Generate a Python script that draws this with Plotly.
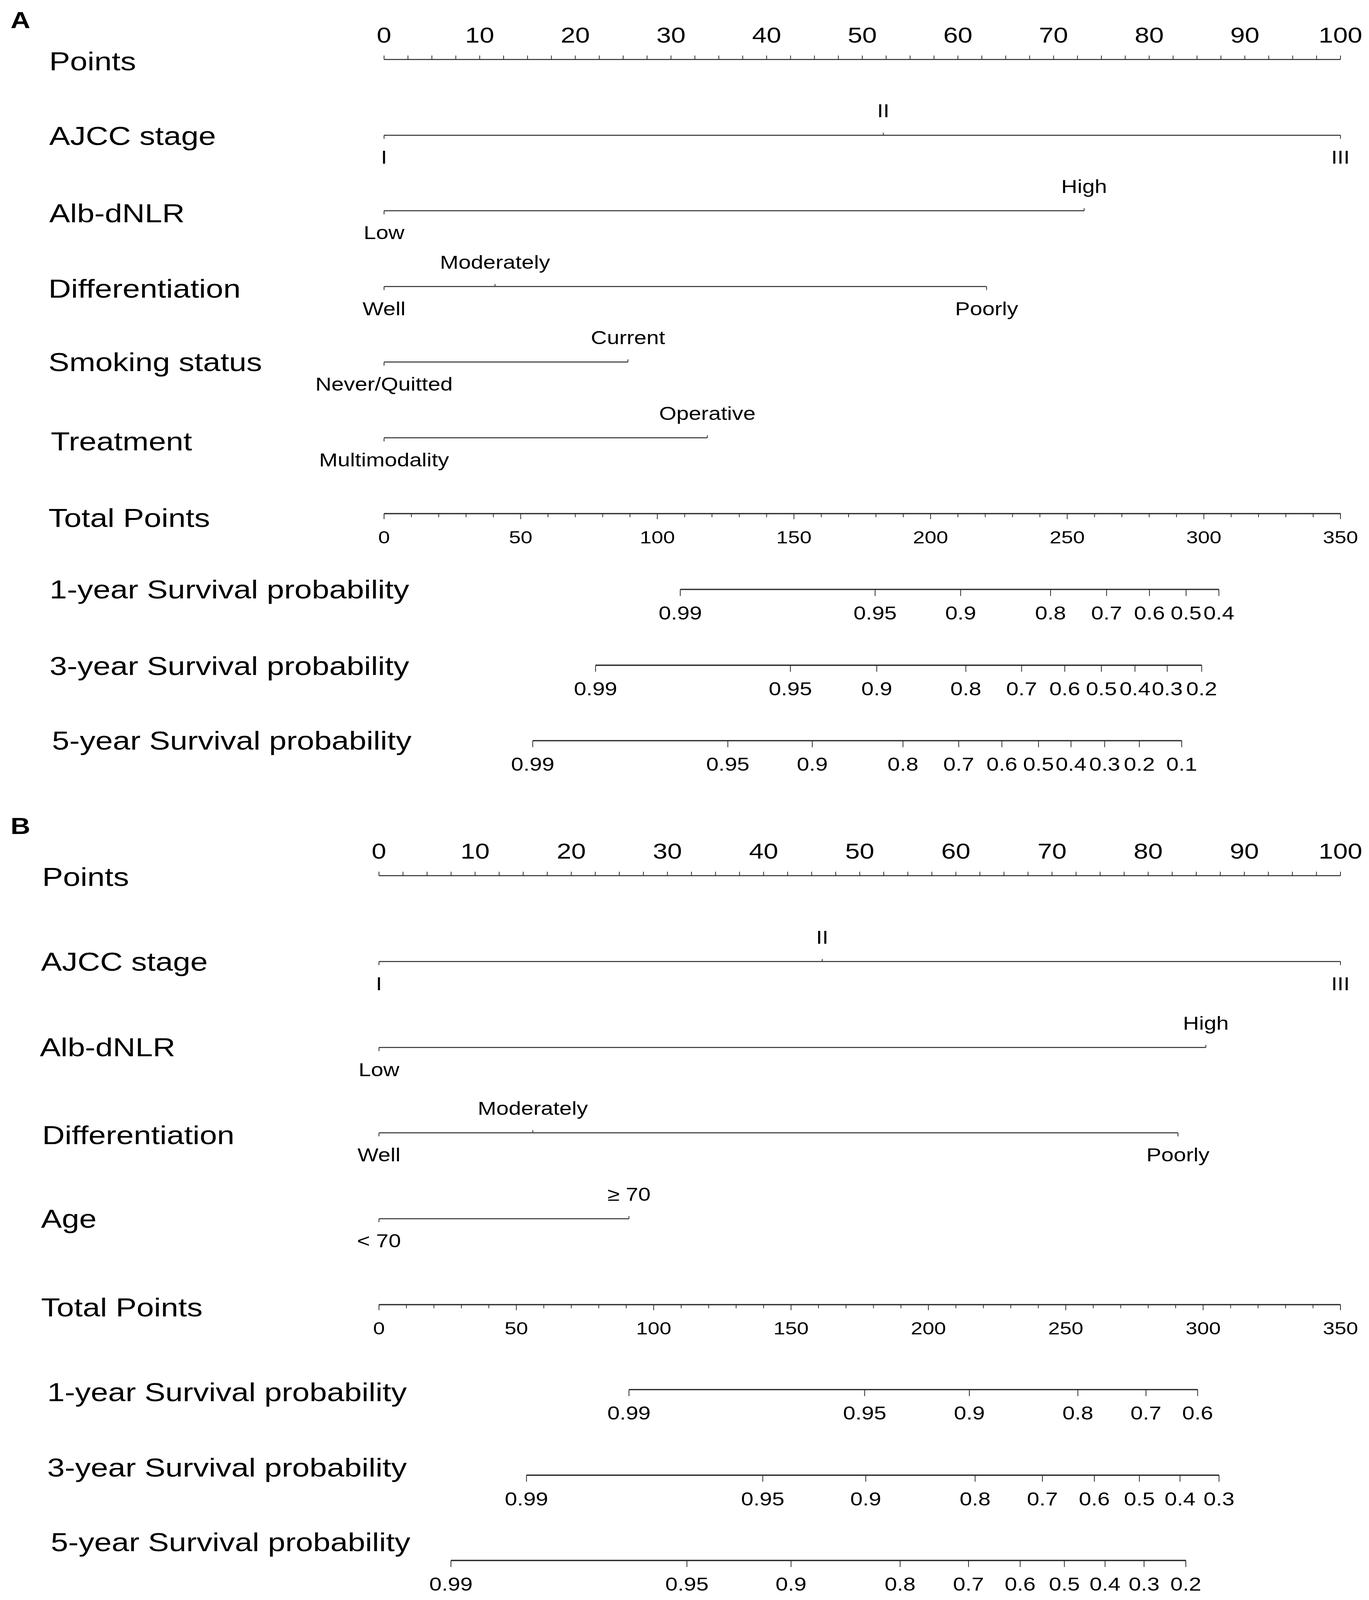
import plotly.graph_objects as go

W, H = 3504, 4897
FONT = "Liberation Sans, Arial, Helvetica, sans-serif"

# ---------------- data ----------------
points_ticks = [0, 10, 20, 30, 40, 50, 60, 70, 80, 90, 100]
points_minor_step = 2.5
total_ticks = [0, 50, 100, 150, 200, 250, 300, 350]
total_minor_step = 10
total_max = 350

# Panel A
A_ajcc_levels = ["I", "II", "III"]
A_ajcc_points = [0, 52.2, 100]
A_alb_levels = ["Low", "High"]
A_alb_points = [0, 73.2]
A_diff_levels = ["Well", "Moderately", "Poorly"]
A_diff_points = [0, 11.6, 63.0]
A_smoke_levels = ["Never/Quitted", "Current"]
A_smoke_points = [0, 25.5]
A_treat_levels = ["Multimodality", "Operative"]
A_treat_points = [0, 33.8]

A_surv1_probs = ["0.99", "0.95", "0.9", "0.8", "0.7", "0.6", "0.5", "0.4"]
A_surv1_total = [108.4, 179.7, 211.0, 243.9, 264.4, 280.1, 293.5, 305.5]
A_surv3_probs = ["0.99", "0.95", "0.9", "0.8", "0.7", "0.6", "0.5", "0.4", "0.3", "0.2"]
A_surv3_total = [77.4, 148.7, 180.3, 212.9, 233.3, 249.1, 262.5, 274.8, 286.6, 299.2]
A_surv5_probs = ["0.99", "0.95", "0.9", "0.8", "0.7", "0.6", "0.5", "0.4", "0.3", "0.2", "0.1"]
A_surv5_total = [54.4, 125.8, 156.7, 189.9, 210.3, 226.1, 239.5, 251.4, 263.7, 276.4, 291.9]

# Panel B
B_ajcc_levels = ["I", "II", "III"]
B_ajcc_points = [0, 46.1, 100]
B_alb_levels = ["Low", "High"]
B_alb_points = [0, 86.0]
B_diff_levels = ["Well", "Moderately", "Poorly"]
B_diff_points = [0, 16.0, 83.1]
B_age_levels = ["< 70", "≥ 70"]
B_age_points = [0, 26.0]

B_surv1_probs = ["0.99", "0.95", "0.9", "0.8", "0.7", "0.6"]
B_surv1_total = [91.0, 176.8, 214.9, 254.4, 279.2, 298.0]
B_surv3_probs = ["0.99", "0.95", "0.9", "0.8", "0.7", "0.6", "0.5", "0.4", "0.3"]
B_surv3_total = [53.7, 139.7, 177.2, 217.0, 241.5, 260.4, 276.8, 291.6, 305.8]
B_surv5_probs = ["0.99", "0.95", "0.9", "0.8", "0.7", "0.6", "0.5", "0.4", "0.3", "0.2"]
B_surv5_total = [26.2, 112.1, 150.0, 189.7, 214.6, 233.4, 249.5, 264.3, 278.5, 293.7]

# ---------------- layout (pixel positions) ----------------
LINE_COL = "#2b2b2b"
TXT_COL = "#000000"
LABEL_SIZE = 80
PT_TICK_SIZE = 67
TOT_TICK_SIZE = 54
SMALL_SIZE = 57

panels = [
    dict(
        axis="x", letter="A", letter_y=62, px0=983, px100=3431,
        points_y=182, points_label=("Points", 124, 187),
        cats=[
            ("AJCC stage", A_ajcc_levels, A_ajcc_points, 414, 124, 415),
            ("Alb-dNLR", A_alb_levels, A_alb_points, 645, 124, 652),
            ("Differentiation", A_diff_levels, A_diff_points, 877, 122, 883),
            ("Smoking status", A_smoke_levels, A_smoke_points, 1108, 122, 1108),
            ("Treatment", A_treat_levels, A_treat_points, 1340, 128, 1351),
        ],
        total_y=1572, total_label=("Total Points", 122, 1585),
        survs=[
            ("1-year Survival probability", A_surv1_probs, A_surv1_total, 1804, 125, 1804),
            ("3-year Survival probability", A_surv3_probs, A_surv3_total, 2036, 125, 2038),
            ("5-year Survival probability", A_surv5_probs, A_surv5_total, 2267, 131, 2266),
        ],
    ),
    dict(
        axis="x2", letter="B", letter_y=2528, px0=970, px100=3431,
        points_y=2680, points_label=("Points", 106, 2684),
        cats=[
            ("AJCC stage", B_ajcc_levels, B_ajcc_points, 2943, 103, 2943),
            ("Alb-dNLR", B_alb_levels, B_alb_points, 3206, 100, 3205),
            ("Differentiation", B_diff_levels, B_diff_points, 3467, 106, 3474),
            ("Age", B_age_levels, B_age_points, 3730, 103, 3730),
        ],
        total_y=3993, total_label=("Total Points", 103, 4001),
        survs=[
            ("1-year Survival probability", B_surv1_probs, B_surv1_total, 4253, 119, 4260),
            ("3-year Survival probability", B_surv3_probs, B_surv3_total, 4515, 119, 4491),
            ("5-year Survival probability", B_surv5_probs, B_surv5_total, 4776, 128, 4719),
        ],
    ),
]

fig = go.Figure()
annotations = []


def add_segments(segs, axis, width):
    xs, ys = [], []
    for (x0, y0, x1, y1) in segs:
        xs += [x0, x1, None]
        ys += [y0, y1, None]
    fig.add_trace(go.Scatter(x=xs, y=ys, mode="lines", xaxis=axis, yaxis="y",
                             line=dict(color=LINE_COL, width=width),
                             hoverinfo="skip", showlegend=False))


def add_texts(xs, ys, texts, axis, size):
    fig.add_trace(go.Scatter(x=xs, y=ys, text=texts, mode="text", xaxis=axis, yaxis="y",
                             textposition="middle center",
                             textfont=dict(family=FONT, size=size, color=TXT_COL),
                             hoverinfo="skip", showlegend=False, cliponaxis=False))


def add_label(text, px, y, size=LABEL_SIZE, bold=False):
    annotations.append(dict(
        text=f"<b>{text}</b>" if bold else text, xref="paper", yref="y",
        x=px / W, y=y, xanchor="left", yanchor="middle", showarrow=False,
        font=dict(family=FONT, size=size, color=TXT_COL)))


def to_pts(total):
    return total * 100.0 / total_max


for p in panels:
    ax = p["axis"]
    add_label(p["letter"], 25, p["letter_y"], size=70, bold=True)

    # Points axis
    y = p["points_y"]
    add_segments([(0, y, 100, y)], ax, 3)
    n_minor = int(round(100 / points_minor_step))
    ticks = [i * points_minor_step for i in range(n_minor + 1)]
    add_segments([(t, y, t, y - 12) for t in ticks], ax, 2)
    add_texts(points_ticks, [y - 69] * len(points_ticks), [str(v) for v in points_ticks], ax, PT_TICK_SIZE)
    add_label(*p["points_label"])

    # Categorical predictors
    for (name, levels, pts, ly, lx, lty) in p["cats"]:
        add_segments([(min(pts), ly, max(pts), ly)], ax, 3)
        segs, tx, tyy = [], [], []
        for i, v in enumerate(pts):
            if i % 2 == 0:
                segs.append((v, ly, v, ly + 11))
                tyy.append(ly + 73)
            else:
                segs.append((v, ly, v, ly - 8))
                tyy.append(ly - 69)
            tx.append(v)
        add_segments(segs, ax, 2)
        add_texts(tx, tyy, levels, ax, SMALL_SIZE)
        add_label(name, lx, lty)

    # Total points axis
    y = p["total_y"]
    add_segments([(0, y, 100, y)], ax, 4)
    n_t = int(round(total_max / total_minor_step))
    segs = []
    for i in range(n_t + 1):
        tv = i * total_minor_step
        ln = 17 if tv % 50 == 0 else 11
        segs.append((to_pts(tv), y, to_pts(tv), y + ln))
    add_segments(segs, ax, 2)
    add_texts([to_pts(v) for v in total_ticks], [y + 77] * len(total_ticks),
              [str(v) for v in total_ticks], ax, TOT_TICK_SIZE)
    add_label(*p["total_label"])

    # Survival probability axes
    for (name, probs, totals, sy, lx, lty) in p["survs"]:
        xs = [to_pts(t) for t in totals]
        add_segments([(min(xs), sy, max(xs), sy)], ax, 4)
        add_segments([(x, sy, x, sy + 20) for x in xs], ax, 2)
        add_texts(xs, [sy + 78] * len(xs), probs, ax, SMALL_SIZE)
        add_label(name, lx, lty)


def xrange_for(px0, px100):
    s = (px100 - px0) / 100.0
    return [-px0 / s, (W - px0) / s]


fig.update_layout(
    width=W, height=H,
    margin=dict(l=0, r=0, t=0, b=0),
    paper_bgcolor="white", plot_bgcolor="white",
    showlegend=False, hovermode=False,
    xaxis=dict(range=xrange_for(panels[0]["px0"], panels[0]["px100"]), domain=[0, 1],
               visible=False, fixedrange=True),
    xaxis2=dict(range=xrange_for(panels[1]["px0"], panels[1]["px100"]), domain=[0, 1],
                visible=False, overlaying="x", anchor="y", fixedrange=True),
    yaxis=dict(range=[H, 0], domain=[0, 1], visible=False, fixedrange=True),
    annotations=annotations,
)

# Fit the fixed-size figure to the browser viewport (no body margin, no scrollbars)
post_js = """
(function(){
  document.documentElement.style.margin='0';
  document.body.style.margin='0';
  document.body.style.overflow='hidden';
  var gd = document.getElementById('{plot_id}');
  var sx = window.innerWidth / %d, sy = window.innerHeight / %d;
  if (sx > 0 && sy > 0 && (Math.abs(sx-1) > 0.002 || Math.abs(sy-1) > 0.002)) {
    gd.style.transformOrigin = '0 0';
    gd.style.transform = 'scale(' + sx + ',' + sy + ')';
  }
})();
""" % (W, H)

fig.write_html("out.html", post_script=post_js, config={"displayModeBar": False})
